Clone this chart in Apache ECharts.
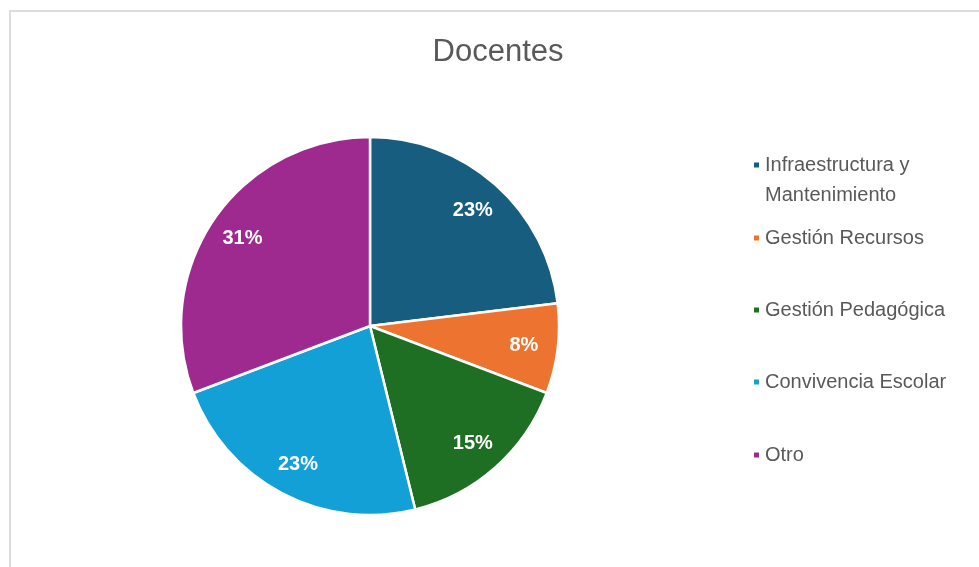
<!DOCTYPE html>
<html>
<head>
<meta charset="utf-8">
<script src="https://cdn.jsdelivr.net/npm/echarts@6/dist/echarts.min.js"></script>
<style>
  html, body { margin: 0; padding: 0; background: #fff; overflow: hidden; }
  #frame { position: absolute; left: 9px; top: 10px; width: 1000px; height: 600px; border: 2px solid #dcdcdc; box-sizing: border-box; }
  #chart { position: absolute; left: 0; top: 0; width: 979px; height: 567px; }
</style>
</head>
<body>
<div id="frame"></div>
<div id="chart"></div>
<script>
var categories = ['Infraestructura y Mantenimiento', 'Gestión Recursos', 'Gestión Pedagógica', 'Convivencia Escolar', 'Otro'];
var counts = [3, 1, 2, 3, 4];
var colors = ['#175d80', '#ed7331', '#1e6e23', '#12a0d7', '#9e2a8f'];
var legendTops = [120, 223, 295, 367, 440];

var dom = document.getElementById('chart');
var myChart = echarts.init(dom);

var pieData = categories.map(function (name, i) {
    return {name: name, value: counts[i], itemStyle: {color: colors[i]}};
});

var legends = categories.map(function (name, i) {
    return {
        data: [name],
        orient: 'vertical',
        left: 752,
        top: legendTops[i],
        padding: 0,
        itemWidth: 7,
        itemHeight: 7,
        icon: 'rect',
        formatter: function (n) {
            // blank first line keeps the marker level with the first text line
            return n === 'Infraestructura y Mantenimiento' ? ' \nInfraestructura y\nMantenimiento' : n;
        },
        textStyle: {
            fontFamily: 'Liberation Sans',
            fontSize: 20,
            color: '#595959',
            lineHeight: 30
        }
    };
});

option = {
    backgroundColor: 'transparent',
    animation: false,
    title: {
        text: 'Docentes',
        left: 493,
        top: 32,
        textAlign: 'center',
        textStyle: {
            fontFamily: 'Liberation Sans',
            fontWeight: 'normal',
            fontSize: 31,
            color: '#595959'
        }
    },
    legend: legends,
    series: [
        {
            type: 'pie',
            center: [370, 326],
            radius: 189,
            startAngle: 90,
            data: pieData,
            label: {show: false},
            labelLine: {show: false},
            itemStyle: {borderColor: '#ffffff', borderWidth: 2.5},
            emphasis: {disabled: true}
        },
        {
            // transparent ring only used to place the labels near the rim
            type: 'pie',
            center: [370, 327],
            radius: [115, 189],
            startAngle: 90,
            silent: true,
            percentPrecision: 0,
            data: categories.map(function (name, i) {
                return {name: name, value: counts[i]};
            }),
            itemStyle: {color: 'rgba(0,0,0,0)', borderWidth: 0},
            label: {
                show: true,
                position: 'inside',
                formatter: '{d}%',
                fontFamily: 'Liberation Sans',
                fontWeight: 'bold',
                fontSize: 20,
                color: '#ffffff'
            },
            labelLine: {show: false},
            emphasis: {disabled: true}
        }
    ]
};

myChart.setOption(option);
</script>
</body>
</html>
